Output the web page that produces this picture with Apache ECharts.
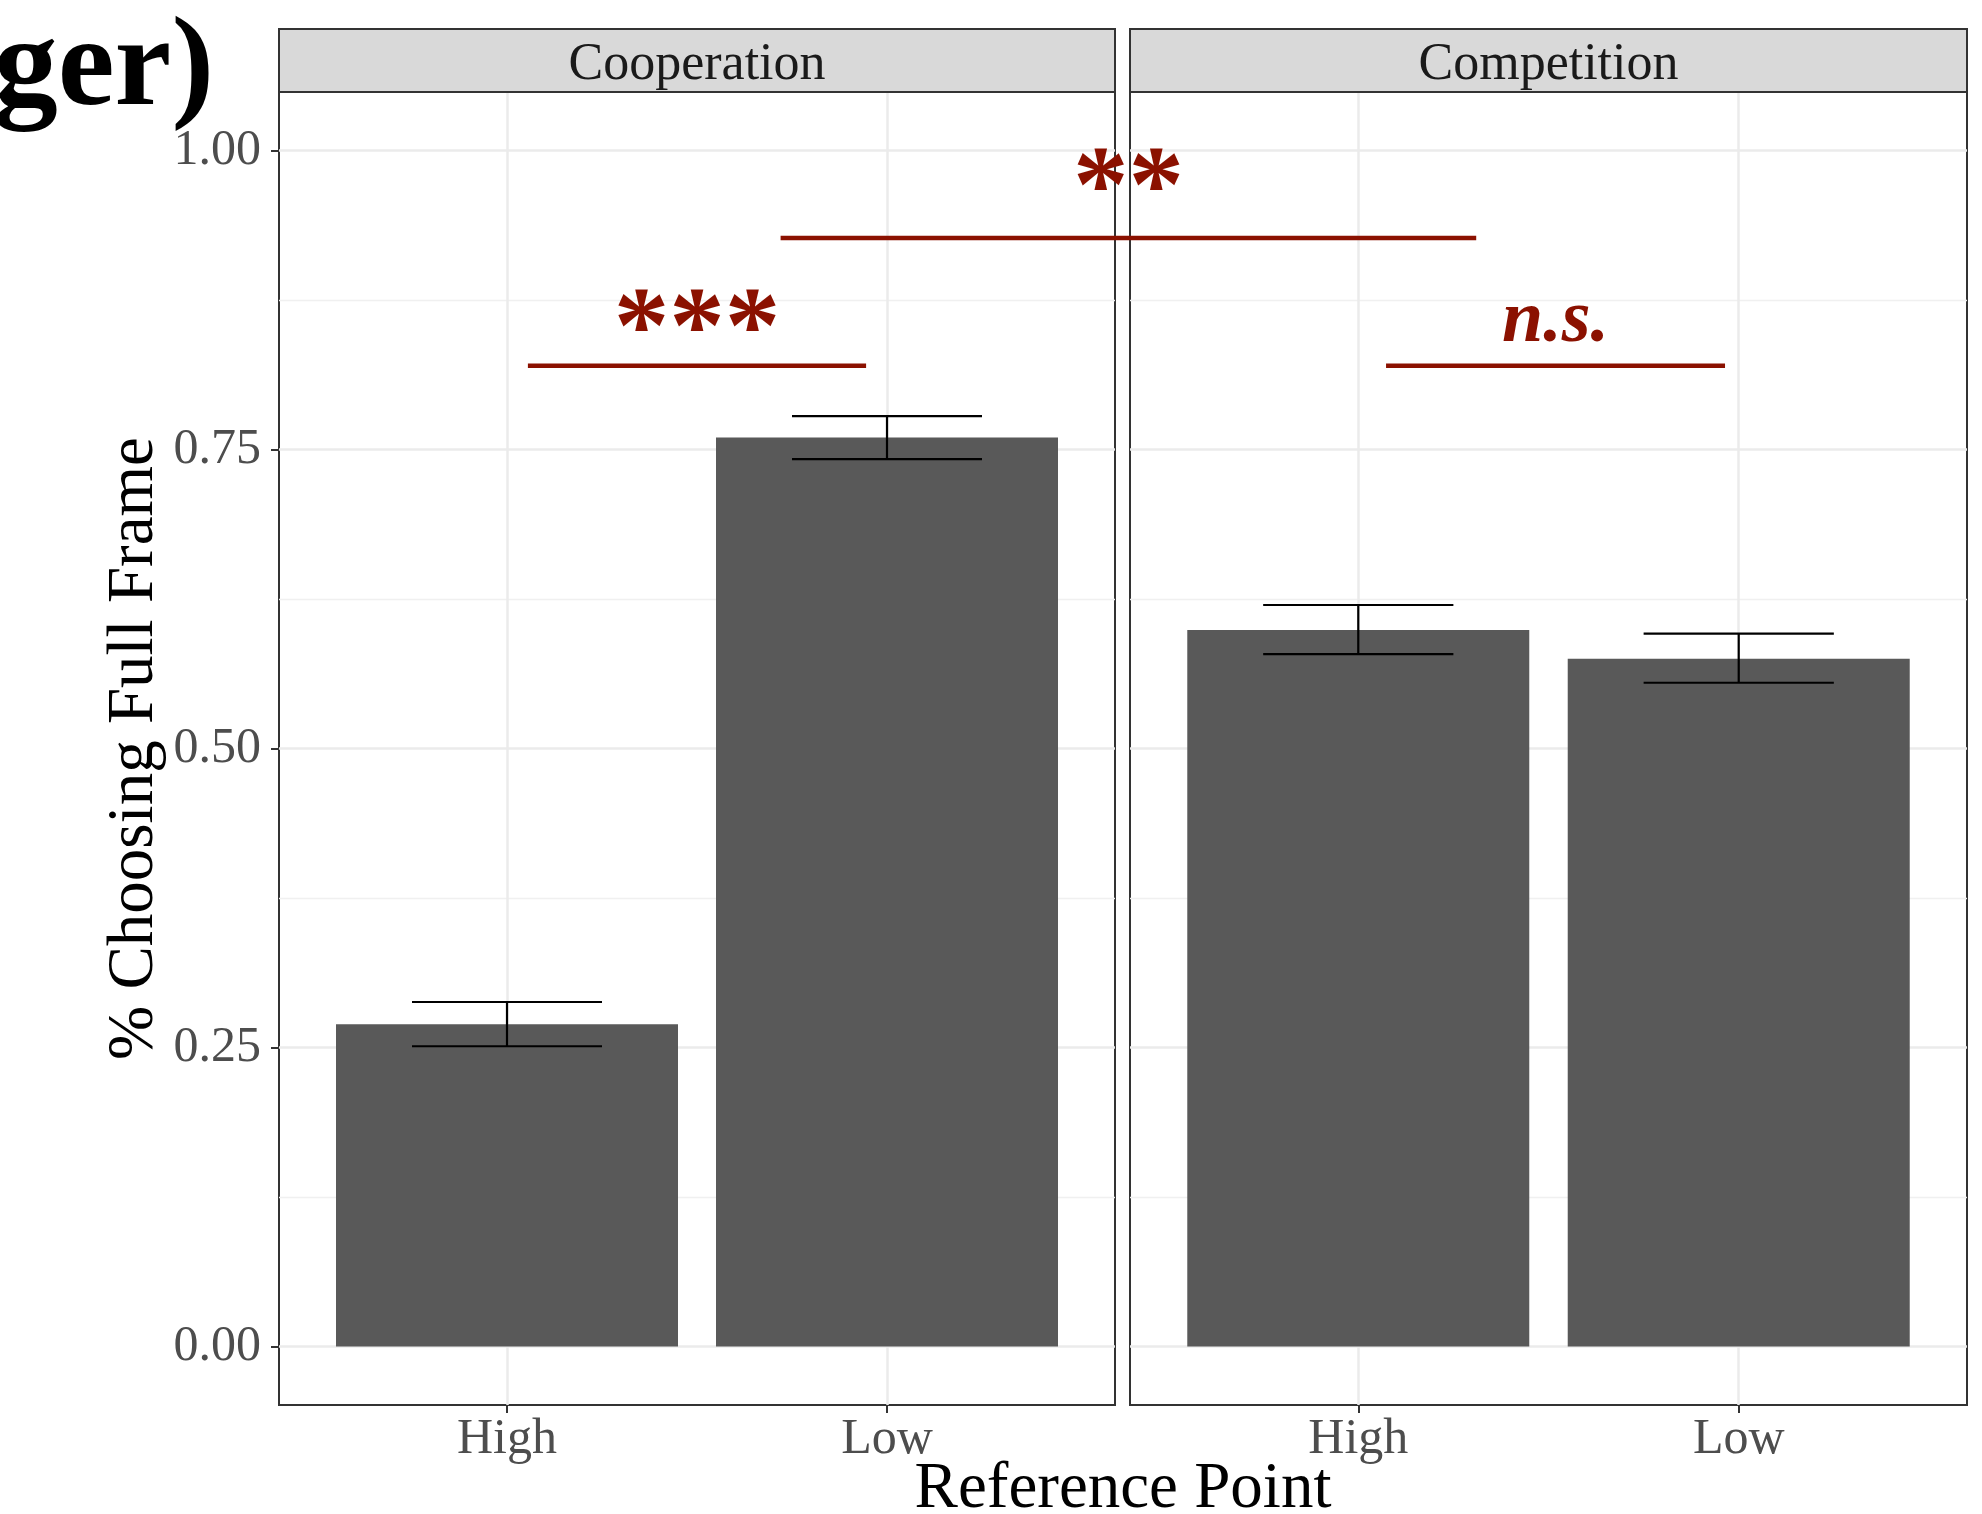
<!DOCTYPE html>
<html>
<head>
<meta charset="utf-8">
<script src="https://cdn.jsdelivr.net/npm/echarts@6/dist/echarts.min.js"></script>
<style>
  html, body { margin: 0; padding: 0; background: #fff; }
  #chart { width: 1982px; height: 1514px; }
</style>
</head>
<body>
<div id="chart"></div>
<script>
  // data
  const categories = ['High', 'Low']
  const panels = ['Cooperation', 'Competition']
  const coopValues = [0.2695, 0.760]
  const coopLower = [0.251, 0.742]
  const coopUpper = [0.288, 0.778]
  const compValues = [0.599, 0.575]
  const compLower = [0.579, 0.555]
  const compUpper = [0.620, 0.596]
  const yTicks = [0, 0.25, 0.5, 0.75, 1]
  const yMinorTicks = [0.125, 0.375, 0.625, 0.875]

  // significance brackets: [panel, x] endpoints, line height, label height
  const sigLabels = ['***', '**', 'n.s.']
  const sigFrom = [[0, 1.055], [0, 1.72], [1, 1.073]]
  const sigTo = [[0, 1.945], [1, 1.31], [1, 1.964]]
  const sigLineY = [0.82, 0.927, 0.82]
  const sigLabelY = [0.847, 0.965, 0.857]

  const serif = '"Liberation Serif", "Times New Roman", serif'
  const sigColor = '#8B1100'
  const panelLeft = [279, 1130]
  const panelWidth = [836, 837]
  const panelTop = 92
  const panelHeight = 1313
  const stripTop = 29

  const chart = echarts.init(document.getElementById('chart'), null, { renderer: 'canvas' })

  const grids = panels.map((p, i) => ({
    left: panelLeft[i],
    top: panelTop,
    width: panelWidth[i],
    height: panelHeight,
    show: true,
    backgroundColor: '#fff',
    borderColor: '#333333',
    borderWidth: 2
  }))

  const xAxes = panels.map((p, i) => ({
    type: 'value',
    gridIndex: i,
    min: 0.4,
    max: 2.6,
    axisLine: { show: false, onZero: false },
    axisTick: { show: true, customValues: [1, 2], length: 8, lineStyle: { color: '#333333', width: 2 } },
    axisLabel: {
      customValues: [1, 2],
      formatter: v => categories[Math.round(v) - 1],
      fontFamily: serif,
      fontSize: 50,
      color: '#4D4D4D',
      margin: 10
    },
    splitLine: { show: true, lineStyle: { color: '#EBEBEB', width: 2.5 } }
  }))

  const yMain = panels.map((p, i) => ({
    type: 'value',
    gridIndex: i,
    min: -0.049,
    max: 1.049,
    position: 'left',
    axisLine: { show: false, onZero: false },
    axisTick: { show: i === 0, customValues: yTicks, length: 8, lineStyle: { color: '#333333', width: 2 } },
    axisLabel: {
      show: i === 0,
      customValues: yTicks,
      formatter: v => v.toFixed(2),
      fontFamily: serif,
      fontSize: 50,
      color: '#4D4D4D',
      margin: 18
    },
    splitLine: { show: true, lineStyle: { color: '#EBEBEB', width: 2.5 } },
    name: i === 0 ? '% Choosing Full Frame' : '',
    nameLocation: 'middle',
    nameRotate: 90,
    nameGap: 112,
    nameTextStyle: { fontFamily: serif, fontSize: 65, color: '#000' }
  }))

  const yMinor = panels.map((p, i) => ({
    type: 'value',
    gridIndex: i,
    min: -0.049,
    max: 1.049,
    position: 'left',
    axisLine: { show: false, onZero: false },
    axisTick: { show: false, customValues: yMinorTicks },
    axisLabel: { show: false, customValues: yMinorTicks },
    splitLine: { show: true, lineStyle: { color: '#F0F0F0', width: 1.3 } }
  }))

  const barData = [coopValues, compValues]
  const lowData = [coopLower, compLower]
  const highData = [coopUpper, compUpper]

  const series = []
  panels.forEach((p, i) => {
    series.push({
      type: 'bar',
      name: p,
      xAxisIndex: i,
      yAxisIndex: i,
      barWidth: 342,
      clip: false,
      itemStyle: { color: '#595959' },
      data: barData[i].map((v, k) => [k + 1, v]),
      z: 3
    })
    series.push({
      type: 'custom',
      name: p + ' se',
      xAxisIndex: i,
      yAxisIndex: i,
      z: 4,
      data: lowData[i].map((lo, k) => [k + 1, lo, highData[i][k]]),
      renderItem: function(params, api) {
        const x = api.value(0)
        const lo = api.value(1)
        const hi = api.value(2)
        const a = api.coord([x - 0.25, hi])
        const b = api.coord([x + 0.25, hi])
        const c = api.coord([x - 0.25, lo])
        const d = api.coord([x + 0.25, lo])
        const m1 = api.coord([x, hi])
        const m2 = api.coord([x, lo])
        const st = { stroke: '#000', lineWidth: 2.2 }
        return {
          type: 'group',
          children: [
            { type: 'line', shape: { x1: a[0], y1: a[1], x2: b[0], y2: b[1] }, style: st },
            { type: 'line', shape: { x1: c[0], y1: c[1], x2: d[0], y2: d[1] }, style: st },
            { type: 'line', shape: { x1: m1[0], y1: m1[1], x2: m2[0], y2: m2[1] }, style: st }
          ]
        }
      }
    })
  })

  chart.setOption({
    backgroundColor: '#fff',
    animation: false,
    grid: grids,
    xAxis: xAxes,
    yAxis: yMain.concat(yMinor),
    series: series
  })

  // strips, titles and significance marks, placed from the grids and scales
  const graphics = []
  panels.forEach((p, i) => {
    graphics.push({
      type: 'rect',
      shape: { x: panelLeft[i], y: stripTop, width: panelWidth[i], height: panelTop - stripTop },
      style: { fill: '#D9D9D9', stroke: '#333333', lineWidth: 2 },
      z: 10
    })
    graphics.push({
      type: 'text',
      x: panelLeft[i] + panelWidth[i] / 2,
      y: (stripTop + panelTop) / 2 + 5,
      style: { text: p, font: '52px ' + serif, fill: '#1A1A1A', align: 'center', verticalAlign: 'middle' },
      z: 11
    })
  })

  graphics.push({
    type: 'text',
    x: (panelLeft[0] + panelLeft[1] + panelWidth[1]) / 2,
    y: 1490,
    style: { text: 'Reference Point', font: '65px ' + serif, fill: '#000', align: 'center', verticalAlign: 'middle' },
    z: 11
  })

  graphics.push({
    type: 'text',
    x: 214,
    y: 71,
    style: { text: 'ger)', font: 'bold 128px ' + serif, fill: '#000', align: 'right', verticalAlign: 'middle' },
    z: 11
  })

  sigLabels.forEach((lab, k) => {
    const p1 = chart.convertToPixel({ gridIndex: sigFrom[k][0] }, [sigFrom[k][1], sigLineY[k]])
    const p2 = chart.convertToPixel({ gridIndex: sigTo[k][0] }, [sigTo[k][1], sigLineY[k]])
    const lp = chart.convertToPixel({ gridIndex: sigFrom[k][0] }, [sigFrom[k][1], sigLabelY[k]])
    graphics.push({
      type: 'line',
      shape: { x1: p1[0], y1: p1[1], x2: p2[0], y2: p2[1] },
      style: { stroke: sigColor, lineWidth: 4.5 },
      z: 12
    })
    const italic = lab === 'n.s.'
    graphics.push({
      type: 'text',
      x: (p1[0] + p2[0]) / 2,
      y: lp[1],
      style: {
        text: lab,
        font: (italic ? 'italic bold 74px ' : 'bold 111px ') + serif,
        fill: sigColor,
        align: 'center',
        verticalAlign: 'middle'
      },
      z: 12
    })
  })

  chart.setOption({ graphic: graphics })
</script>
</body>
</html>
